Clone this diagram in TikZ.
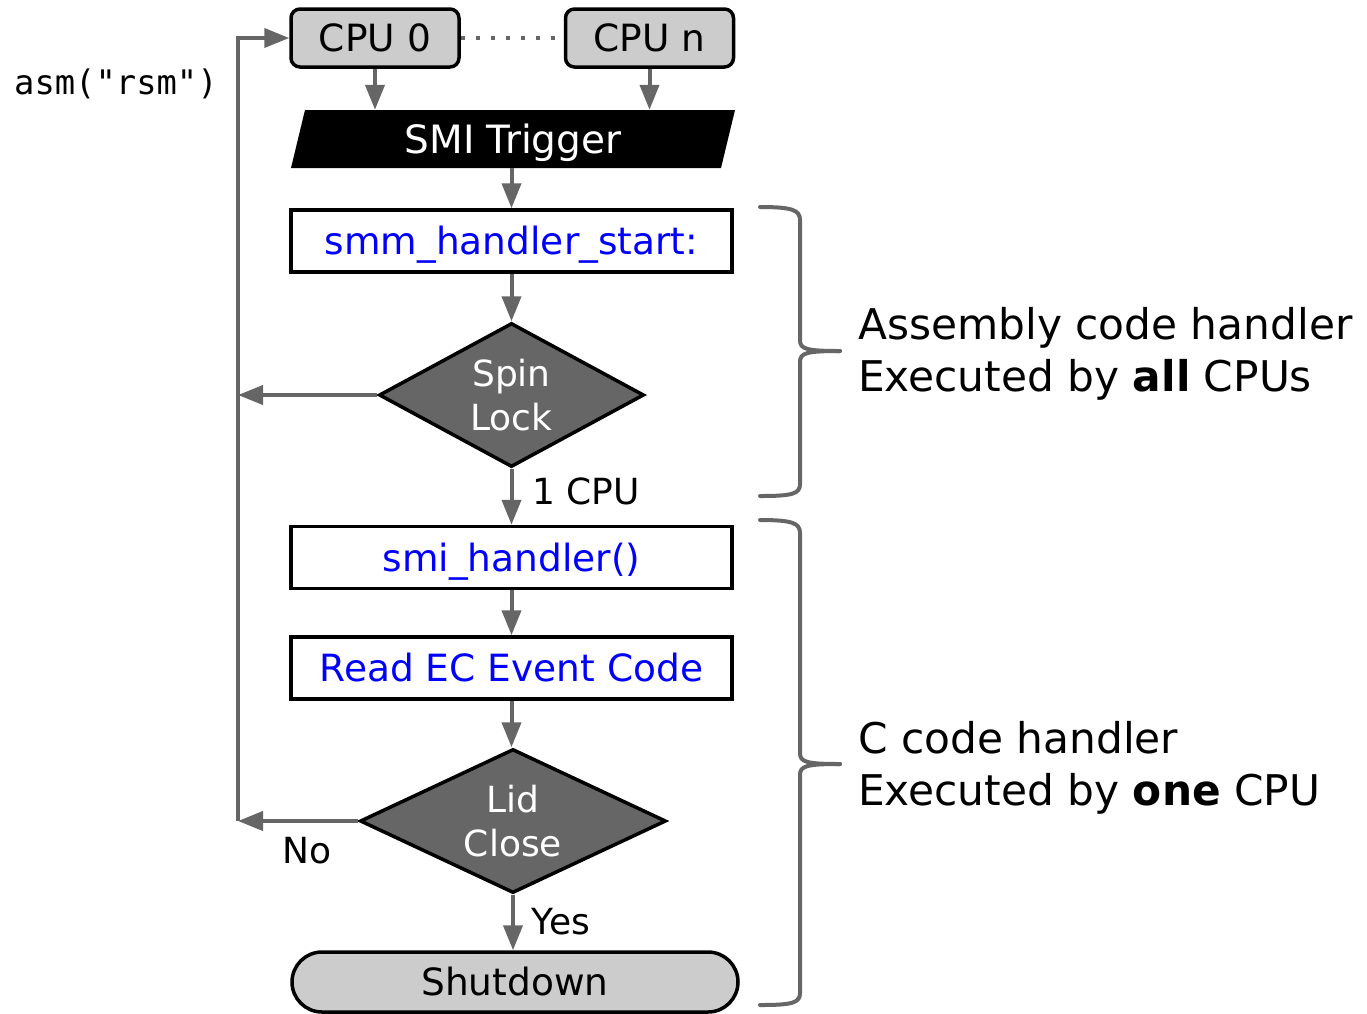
\documentclass[tikz,border=0pt]{standalone}
\usepackage{fontspec}
\setmainfont{DejaVu Sans}
\setmonofont{DejaVu Sans Mono}
\usetikzlibrary{arrows.meta,shapes.geometric,shapes.misc}
\definecolor{linegray}{HTML}{666666}
\definecolor{boxgray}{HTML}{CCCCCC}
\definecolor{codeblue}{HTML}{0000FF}
\begin{document}
\begin{tikzpicture}[x=1pt,y=-1pt,
  txt/.style={font=\fontsize{37.5}{44}\selectfont},
  oneline/.style={txt, text height=27.3pt, text depth=0pt},
  cpubox/.style={draw, line width=3.5pt, fill=boxgray, rounded corners=9pt,
    minimum width=168pt, minimum height=58pt, inner sep=0pt, oneline},
  stepbox/.style={draw, line width=3.5pt, fill=white, minimum width=441pt,
    minimum height=62pt, inner sep=0pt, oneline, text=codeblue},
  decision/.style={diamond, draw, line width=3.5pt, fill=linegray, text=white,
    inner sep=0pt, align=center, font=\fontsize{36}{44}\selectfont},
  flow/.style={draw=linegray, line width=4pt, -{Triangle[length=25pt,width=19pt]}},
  dotline/.style={draw=linegray, line width=4pt, dash pattern=on 4pt off 11pt},
  brace/.style={draw=linegray, line width=4pt, line cap=round},
  lbl/.style={font=\fontsize{36}{44}\selectfont, inner sep=0pt},
  note/.style={font=\fontsize{42.3}{52}\selectfont, align=left, anchor=west, inner sep=0pt}
]
\useasboundingbox (0,0) rectangle (1367,1013);

% CPUs
\node[cpubox] (cpu0) at (375,38) {CPU 0};
\node[cpubox] (cpun) at (649.5,38) {CPU n};

% SMI trigger parallelogram
\fill (305,110) -- (735,110) -- (721,168) -- (291,168) -- cycle;
\node[oneline, font=\fontsize{39}{44}\selectfont, text height=28.4pt, text=white,
  minimum width=430pt, minimum height=58pt, inner sep=0pt] (smi) at (513,139) {SMI Trigger};

% flow steps
\node[stepbox] (start) at (511.5,241) {smm\_handler\_start:};
\node[decision, aspect=1.84, minimum width=265pt, minimum height=144pt] (spin) at (511.5,395) {Spin\\Lock};
\node[stepbox] (smih) at (511.5,557.5) {smi\_handler()};
\node[stepbox] (ec) at (511.5,668) {Read EC Event Code};
\node[decision, aspect=2.125, minimum width=306pt, minimum height=144pt] (lid) at (513,821) {Lid\\Close};
\node[rounded rectangle, draw, line width=3.5pt, fill=boxgray, minimum width=446pt,
  minimum height=60pt, inner sep=0pt, oneline] (shut) at (515,982) {Shutdown};

% return path
\coordinate (spinret) at (238,395);
\coordinate (lidret) at (238,821);
\coordinate (topret) at (238,38);

% connectors
\draw[dotline] (cpu0.east) -- (cpun.west);
\draw[flow] (cpu0.south) -- (cpu0.south |- smi.north);
\draw[flow] (cpun.south) -- (cpun.south |- smi.north);
\draw[flow] (smi.south -| start.north) -- (start.north);
\draw[flow] (start.south) -- (spin.north);
\draw[flow] (spin.south) -- (smih.north);
\draw[flow] (smih.south) -- (ec.south |- ec.north);
\draw[flow] (ec.south) -- (lid.north -| ec.south);
\draw[flow] (lid.south) -- (shut.north -| lid.south);
\draw[flow] (spin.west) -- (spinret);
\draw[flow] (lid.west) -- (lidret);
\draw[flow] (lidret) -- (topret) -- (cpu0.west);

% labels
\node[lbl, anchor=west] (onecpu) at (532,491) {1 CPU};
\node[lbl] (nolbl) at (307,851) {No};
\node[lbl] (yeslbl) at (561,922) {Yes};
\node[font=\ttfamily\fontsize{33.8}{40}\selectfont, anchor=west, inner sep=0pt] (asm) at (14,84) {asm("rsm")};

% braces
\draw[brace] (760,207) .. controls (792,207) and (800,210) .. (800,220) -- (800,340)
  .. controls (800,349) and (806,351) .. (840,351);
\draw[brace] (840,351) .. controls (806,351) and (800,353) .. (800,362) -- (800,484)
  .. controls (800,494) and (792,496) .. (760,496);
\draw[brace] (760,520) .. controls (792,520) and (800,523) .. (800,533) -- (800,753)
  .. controls (800,762) and (806,764) .. (840,764);
\draw[brace] (840,764) .. controls (806,764) and (800,766) .. (800,775) -- (800,993)
  .. controls (800,1003) and (792,1005) .. (760,1005);

% notes
\node[note] (asmnote) at (858,354) {Assembly code handler\\Executed by \textbf{all} CPUs};
\node[note] (cnote) at (858,768) {C code handler\\Executed by \textbf{one} CPU};
\end{tikzpicture}
\end{document}
